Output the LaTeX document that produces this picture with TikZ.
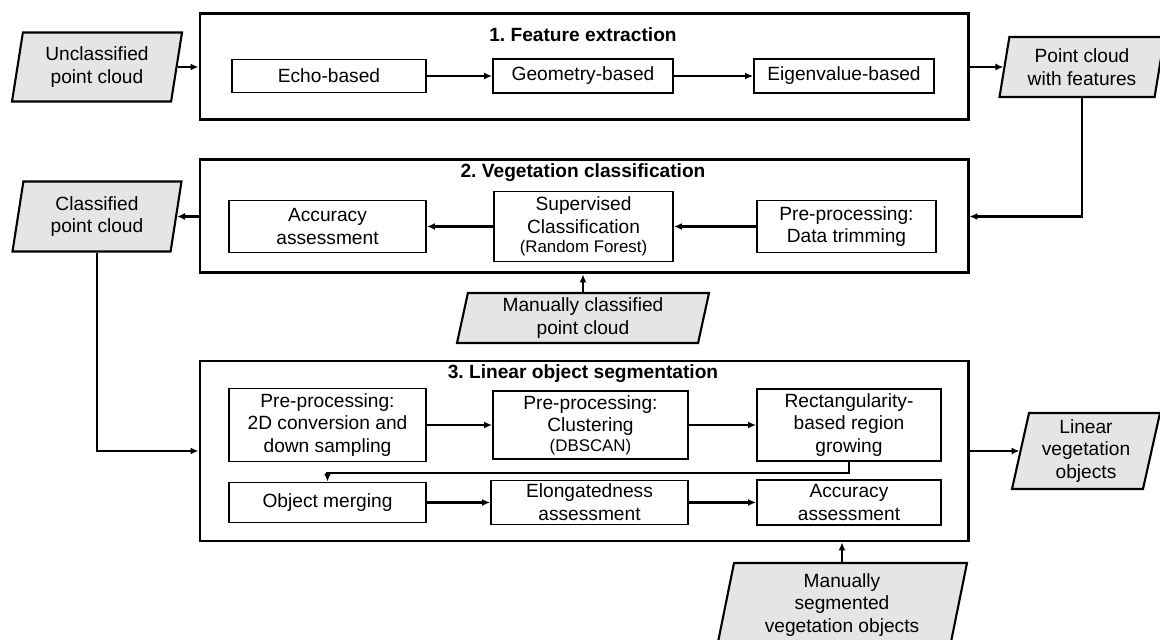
\documentclass[tikz,border=0pt]{standalone}
\usepackage{fontspec}
\setmainfont{Liberation Sans}
\usepackage{tikz, xcolor}
\usetikzlibrary{shapes.geometric, arrows.meta}
\definecolor{datagray}{gray}{0.9}
\frenchspacing

\begin{document}
\begin{tikzpicture}[
    >={Latex[length=4.5pt, width=4pt]},
    every node/.style={font=\fontsize{10.9}{13}\selectfont, align=center},
    stage/.style={draw, line width=1.7pt, inner sep=0pt},
    task/.style={draw, line width=1.1pt, inner sep=0pt},
    data/.style={draw, line width=1.2pt, fill=datagray, trapezium, trapezium left angle=75,
      trapezium right angle=105, trapezium stretches body, inner sep=0pt},
    flow/.style={line width=1.3pt, ->}
  ]
  \useasboundingbox (0, 0) rectangle (23.2, -12.8);

  \node [stage, minimum width=15.36cm, minimum height=2.12cm] (fe) at (11.68, -1.34) {};
  \node [stage, minimum width=15.36cm, minimum height=2.26cm] (vc) at (11.68, -4.33) {};
  \node [stage, minimum width=15.36cm, minimum height=3.6cm] (ls) at (11.68, -9.02) {};

  \node (fetitle) at (11.66, -0.70) {\textbf{1. Feature extraction}};
  \node (vctitle) at (11.66, -3.46) {\textbf{2. Vegetation classification}};
  \node (lstitle) at (11.66, -7.48) {\textbf{3. Linear object segmentation}};

  \node [data, minimum width=3.4cm, minimum height=1.38cm] (unc) at (1.94, -1.34) {Unclassified\\point cloud};
  \node [data, minimum width=3.3cm, minimum height=1.2cm] (pcf) at (21.64, -1.34) {Point cloud\\with features};
  \node [data, minimum width=3.38cm, minimum height=1.4cm] (cpc) at (1.94, -4.33) {Classified\\point cloud};
  \node [data, minimum width=5.04cm, minimum height=1.0cm] (mcpc) at (11.66, -6.36) {Manually classified\\point cloud};
  \node [data, minimum width=2.96cm, minimum height=1.52cm] (lvo) at (21.72, -9.02) {Linear\\vegetation\\objects};
  \node [data, minimum width=5.0cm, minimum height=1.68cm] (msvo) at (16.84, -12.1) {Manually\\segmented\\vegetation objects};

  \node [task, minimum width=3.88cm, minimum height=0.66cm] (echo) at (6.58, -1.52) {Echo-based};
  \node [task, minimum width=3.6cm, minimum height=0.68cm] (geom) at (11.66, -1.52) {Geometry-based};
  \node [task, minimum width=3.6cm, minimum height=0.68cm] (eigen) at (16.88, -1.52) {Eigenvalue-based};

  \node [task, minimum width=3.94cm, minimum height=1.04cm] (acc) at (6.55, -4.53) {Accuracy\\assessment};
  \node [task, minimum width=3.58cm, minimum height=1.4cm] (sup) at (11.67, -4.53)
    {Supervised\\Classification\\[-2pt]{\fontsize{9.6}{11}\selectfont(Random Forest)}};
  \node [task, minimum width=3.58cm, minimum height=1.04cm] (trim) at (16.93, -4.53) {Pre-processing:\\Data trimming};

  \node [task, minimum width=3.94cm, minimum height=1.46cm] (conv) at (6.55, -8.5) {Pre-processing:\\2D conversion and\\down sampling};
  \node [task, minimum width=3.9cm, minimum height=1.36cm] (clus) at (11.81, -8.5)
    {Pre-processing:\\Clustering\\[-2pt]{\fontsize{9.6}{11}\selectfont(DBSCAN)}};
  \node [task, minimum width=3.68cm, minimum height=1.44cm] (grow) at (16.98, -8.5) {Rectangularity-\\based region\\growing};
  \node [task, minimum width=3.94cm, minimum height=0.8cm] (merge) at (6.55, -10.05) {Object merging};
  \node [task, minimum width=3.94cm, minimum height=0.88cm] (elong) at (11.79, -10.05) {Elongatedness\\assessment};
  \node [task, minimum width=3.68cm, minimum height=0.9cm] (segacc) at (16.98, -10.05) {Accuracy\\assessment};

  \draw [flow] (unc.east) to (unc.east -| fe.west);
  \draw [flow] (echo) to (geom);
  \draw [flow] (geom) to (eigen);
  \draw [flow] (fe.east) to (fe.east -| pcf.west);
  \draw [flow] (pcf.south) |- (vc.east);
  \draw [flow] (trim) to (sup);
  \draw [flow] (sup) to (acc);
  \draw [flow] (vc.west) to (vc.west -| cpc.east);
  \draw [flow] (mcpc.north) to (mcpc.north |- vc.south);
  \draw [flow] (cpc.south) |- (ls.west);
  \draw [flow] (conv) to (clus);
  \draw [flow] (clus) to (grow);
  \draw [flow] (grow.south) -- ++(0, -0.22) -| (merge.north);
  \draw [flow] (merge) to (elong);
  \draw [flow] (elong) to (segacc);
  \draw [flow] (ls.east) to (ls.east -| lvo.west);
  \draw [flow] (msvo.north) to (msvo.north |- ls.south);

\end{tikzpicture}
\end{document}
